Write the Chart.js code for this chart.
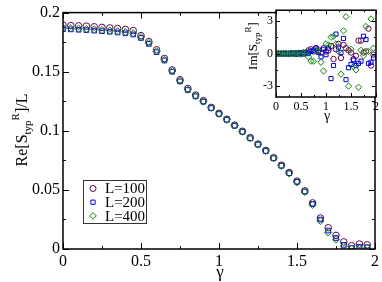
<!DOCTYPE html>
<html>
<head>
<meta charset="utf-8">
<script src="https://cdn.jsdelivr.net/npm/chart.js@4.4.0/dist/chart.umd.min.js"></script>
<style>
  body { margin: 0; background: #fff; }
  #wrap { position: relative; width: 382px; height: 282px; }
  #main { position: absolute; left: 0; top: 0; }
  #inset { position: absolute; left: 240px; top: 0; }
</style>
</head>
<body>
<div id="wrap">
  <canvas id="main" width="382" height="282"></canvas>
  <canvas id="inset" width="142" height="125"></canvas>
</div>
<script>
const gamma = [0, 0.05, 0.1, 0.15, 0.2, 0.25, 0.3, 0.35, 0.4, 0.45,
  0.5, 0.55, 0.6, 0.65, 0.7, 0.75, 0.8, 0.85, 0.9, 0.95,
  1, 1.05, 1.1, 1.15, 1.2, 1.25, 1.3, 1.35, 1.4, 1.45,
  1.5, 1.55, 1.6, 1.65, 1.7, 1.75, 1.8, 1.85, 1.9, 1.95];

const re100 = [0.1895, 0.189, 0.1888, 0.1885, 0.188, 0.1875, 0.187, 0.1865, 0.1858, 0.1848,
  0.1805, 0.1755, 0.1685, 0.1612, 0.1515, 0.1432, 0.1358, 0.1302, 0.1255, 0.1198,
  0.1148, 0.1098, 0.1048, 0.0996, 0.0942, 0.0888, 0.0834, 0.0772, 0.0709, 0.0647,
  0.0574, 0.0492, 0.039, 0.0262, 0.018, 0.0115, 0.006, 0.0028, 0.0042, 0.0035];
const re200 = [0.186, 0.1858, 0.1855, 0.1852, 0.1848, 0.1843, 0.1838, 0.1832, 0.1825, 0.1815,
  0.1785, 0.1735, 0.1665, 0.1595, 0.15, 0.1418, 0.1345, 0.1292, 0.1246, 0.1192,
  0.1142, 0.1093, 0.1043, 0.0991, 0.0937, 0.0883, 0.0829, 0.0768, 0.0705, 0.0641,
  0.0568, 0.0486, 0.0381, 0.0249, 0.0156, 0.0093, 0.0035, 0.0008, 0.0018, 0.0015];
const re400 = [0.187, 0.1868, 0.1865, 0.1862, 0.1858, 0.1853, 0.1848, 0.1842, 0.1835, 0.1825,
  0.1792, 0.1742, 0.1672, 0.16, 0.1505, 0.1422, 0.1348, 0.1294, 0.1248, 0.1194,
  0.1144, 0.1095, 0.1045, 0.0993, 0.0938, 0.0884, 0.083, 0.0769, 0.0704, 0.064,
  0.0565, 0.0482, 0.0374, 0.0238, 0.014, 0.008, 0.0025, 0.0004, 0.0005, 0.001];

const im100 = [0, 0.01, -0.01, 0.02, 0, -0.02, 0.03, 0.02, -0.03, 0.05, 0.04, 0.08,
  0.1, 0.3, 0.4, 0.2, 0.5, 0.3, 0.1, 0.5, 0.2, 0.3, 0.7, -0.5, 0.4, 0.9,
  -0.4, 0.8, 0.5, 0.3, 0.1, -0.5, -0.2, 1.2, 1.2, 0.1, 0.2, 2.3, -1.1, -0.1];
const im200 = [0, -0.01, 0.01, -0.02, 0.02, 0, -0.03, 0.03, 0.02, -0.04, 0.06, -0.05,
  0.1, 0, 0.2, 0.3, 0.5, 0.1, -0.3, 0.4, -0.1, 0.5, -2.3, -1.1, 1.8, 0.6,
  0.1, 1.4, -2.4, -1.3, -1, -0.6, -1.1, -0.9, -0.7, 1.6, 1.3, -0.9, -0.8, -0.4];
const im400 = [0, 0, 0.01, -0.01, 0.01, -0.02, 0.02, -0.03, 0.04, 0.03, -0.06, 0.1,
  0.1, -0.3, -0.7, -0.7, 0.3, 0.2, -0.8, -1.6, 0.9, 0.8, 1.5, 1.6, 0.9, 0.2,
  -1.9, 2.1, 3.4, -3, 0.4, -1.2, -1.5, -3.1, 0.3, -0.2, 2.5, 0.2, 3.2, 0.5];

const labels = ["L=100", "L=200", "L=400"];
const colors = ["rgb(103,7,72)", "rgb(0,0,255)", "rgb(0,139,0)"];
const styles = ["circle", "rect", "rectRot"];

const xTicks = [0, 0.5, 1, 1.5, 2];
const xTickLabels = ["0", "0.5", "1", "1.5", "2"];
const xMinor = [0.25, 0.75, 1.25, 1.75];
const yTicks = [0, 0.05, 0.1, 0.15, 0.2];
const yTickLabels = ["0", "0.05", "0.1", "0.15", "0.2"];
const yMinor = [0.025, 0.075, 0.125, 0.175];
const inYTicks = [-3, 0, 3];
const inYTickLabels = ["-3", "0", "3"];
const inYMinor = [-1.5, 1.5];

const serif = "'Liberation Serif', 'DejaVu Serif', serif";

const pts = (ys) => gamma.map((g, i) => ({ x: g, y: ys[i] }));

const makeSets = (series, radius) => series.map((ys, i) => ({
  label: labels[i],
  data: pts(ys),
  showLine: false,
  pointStyle: styles[i],
  pointRadius: radius[i],
  pointBorderWidth: 1,
  pointBackgroundColor: "rgba(0,0,0,0)",
  pointBorderColor: colors[i],
  borderColor: colors[i],
  order: 3 - i,
}));

const setTicks = (values) => (scale) => {
  scale.ticks = values.map((v) => ({ value: v }));
};

// draws text with sub/superscript pieces, optionally rotated
const drawRich = (ctx, parts, x, y, rot) => {
  ctx.save();
  ctx.translate(x, y);
  if (rot) ctx.rotate(-Math.PI / 2);
  let total = 0;
  parts.forEach((p) => {
    ctx.font = p.size + "px " + serif;
    total += ctx.measureText(p.t).width;
  });
  let cx = -total / 2;
  ctx.fillStyle = "#000";
  ctx.textBaseline = "alphabetic";
  parts.forEach((p) => {
    ctx.font = p.size + "px " + serif;
    ctx.fillText(p.t, cx, p.dy || 0);
    cx += ctx.measureText(p.t).width;
  });
  ctx.restore();
};

const frameTicks = (opts) => ({
  id: "frameTicks",
  beforeDatasetsDraw(chart) {
    const { ctx, chartArea: a } = chart;
    if (opts.fill) {
      ctx.fillStyle = "#fff";
      ctx.fillRect(a.left, a.top, a.right - a.left, a.bottom - a.top);
    }
  },
  afterDatasetsDraw(chart) {
    const { ctx, chartArea: a, scales } = chart;
    ctx.save();
    ctx.strokeStyle = "#000";
    ctx.lineWidth = 1.5;
    ctx.strokeRect(a.left, a.top, a.right - a.left, a.bottom - a.top);
    ctx.lineWidth = 1;
    ctx.beginPath();
    const xt = (vals, len) => vals.forEach((v) => {
      const px = Math.round(scales.x.getPixelForValue(v)) + 0.5;
      ctx.moveTo(px, a.bottom); ctx.lineTo(px, a.bottom - len);
      ctx.moveTo(px, a.top); ctx.lineTo(px, a.top + len);
    });
    const yt = (vals, len) => vals.forEach((v) => {
      const py = Math.round(scales.y.getPixelForValue(v)) + 0.5;
      ctx.moveTo(a.left, py); ctx.lineTo(a.left + len, py);
      ctx.moveTo(a.right, py); ctx.lineTo(a.right - len, py);
    });
    xt(opts.xMajor, opts.major); xt(opts.xMinor, opts.minor);
    yt(opts.yMajor, opts.major); yt(opts.yMinor, opts.minor);
    ctx.stroke();
    ctx.restore();
    opts.titles(ctx);
  },
});

const legendBox = {
  id: "legendBox",
  afterDraw(chart) {
    const ctx = chart.ctx;
    ctx.save();
    ctx.strokeStyle = "#333";
    ctx.lineWidth = 1;
    ctx.strokeRect(83.5, 180.5, 63, 43);
    chart.data.datasets.forEach((ds, i) => {
      const y = 188.5 + i * 13.7;
      ctx.strokeStyle = ds.pointBorderColor;
      ctx.fillStyle = "rgba(0,0,0,0)";
      ctx.lineWidth = 1;
      Chart.helpers.drawPoint(ctx, { pointStyle: ds.pointStyle, radius: ds.pointRadius - 0.3, borderWidth: 1 }, 93, y);
      ctx.fillStyle = "#000";
      ctx.font = "15px " + serif;
      ctx.textBaseline = "middle";
      ctx.fillText(ds.label, 105, y + 1);
    });
    ctx.restore();
  },
};

const tickFont = (size) => ({ family: serif, size: size });

new Chart(document.getElementById("main"), {
  type: "scatter",
  data: { datasets: makeSets([re100, re200, re400], [3.3, 3.3, 3.6]) },
  options: {
    responsive: false,
    animation: false,
    layout: { padding: { top: 6, right: 5, left: 0, bottom: 0 } },
    plugins: { legend: { display: false }, tooltip: { enabled: false } },
    scales: {
      x: {
        type: "linear", min: 0, max: 2,
        grid: { display: false, drawTicks: false }, border: { display: false },
        afterBuildTicks: setTicks(xTicks),
        afterFit: (s) => { s.height = 33; },
        ticks: { font: tickFont(16), color: "#000", padding: 3, maxRotation: 0,
          callback: (v, i) => xTickLabels[i] },
      },
      y: {
        type: "linear", min: 0, max: 0.2,
        grid: { display: false, drawTicks: false }, border: { display: false },
        afterBuildTicks: setTicks(yTicks),
        afterFit: (s) => { s.width = 63; },
        ticks: { font: tickFont(16), color: "#000", padding: 3,
          callback: (v, i) => yTickLabels[i] },
      },
    },
  },
  plugins: [frameTicks({
    xMajor: xTicks, xMinor: xMinor, yMajor: yTicks, yMinor: yMinor, major: 6, minor: 3,
    titles: (ctx) => {
      drawRich(ctx, [{ t: "Re[S", size: 16 }, { t: "typ", size: 11, dy: 4 },
        { t: "R", size: 11, dy: -8 }, { t: "]/L", size: 16 }], 27, 130, true);
      drawRich(ctx, [{ t: "γ", size: 17 }], 220, 277, false);
    },
  }), legendBox],
});

new Chart(document.getElementById("inset"), {
  type: "scatter",
  data: { datasets: makeSets([im100, im200, im400], [2.7, 2.9, 3.1]) },
  options: {
    responsive: false,
    animation: false,
    layout: { padding: { top: 7, right: 6, left: 0, bottom: 0 } },
    plugins: { legend: { display: false }, tooltip: { enabled: false } },
    scales: {
      x: {
        type: "linear", min: 0, max: 2,
        grid: { display: false, drawTicks: false }, border: { display: false },
        afterBuildTicks: setTicks(xTicks),
        afterFit: (s) => { s.height = 28; },
        ticks: { font: tickFont(12), color: "#000", padding: 3, maxRotation: 0,
          callback: (v, i) => xTickLabels[i] },
      },
      y: {
        type: "linear", min: -4, max: 4,
        grid: { display: false, drawTicks: false }, border: { display: false },
        afterBuildTicks: setTicks(inYTicks),
        afterFit: (s) => { s.width = 36; },
        ticks: { font: tickFont(12), color: "#000", padding: 3,
          callback: (v, i) => inYTickLabels[i] },
      },
    },
  },
  plugins: [frameTicks({
    fill: true,
    xMajor: xTicks, xMinor: xMinor, yMajor: inYTicks, yMinor: inYMinor, major: 4, minor: 2,
    titles: (ctx) => {
      drawRich(ctx, [{ t: "Im[S", size: 13 }, { t: "typ", size: 9, dy: 3 },
        { t: "R", size: 9, dy: -6 }, { t: "]", size: 13 }], 17, 46, true);
      drawRich(ctx, [{ t: "γ", size: 14 }], 87, 120, false);
    },
  })],
});
</script>
</body>
</html>
